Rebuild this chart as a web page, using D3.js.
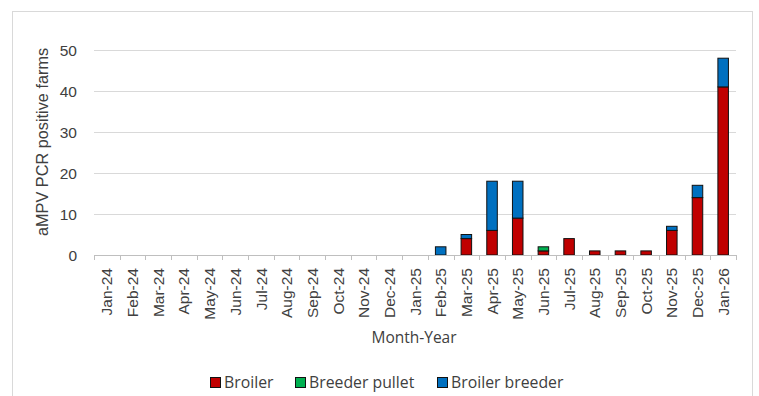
<!DOCTYPE html>
<meta charset="utf-8">
<style>
body { margin: 0; background: #fff; }
svg text { fill: #404040; }
.tick text { font-family: "Liberation Sans", Arial, sans-serif; }
</style>
<svg width="759" height="396"></svg>
<script src="https://d3js.org/d3.v7.min.js"></script>
<script>

var months = ["Jan-24","Feb-24","Mar-24","Apr-24","May-24","Jun-24","Jul-24","Aug-24","Sep-24","Oct-24","Nov-24","Dec-24",
              "Jan-25","Feb-25","Mar-25","Apr-25","May-25","Jun-25","Jul-25","Aug-25","Sep-25","Oct-25","Nov-25","Dec-25","Jan-26"];
var broiler       = [0,0,0,0,0,0,0,0,0,0,0,0, 0,0,4,6,9,1,4,1,1,1,6,14,41];
var breederPullet = [0,0,0,0,0,0,0,0,0,0,0,0, 0,0,0,0,0,1,0,0,0,0,0,0,0];
var broilerBreeder= [0,0,0,0,0,0,0,0,0,0,0,0, 0,2,1,12,9,0,0,0,0,0,1,3,7];
var seriesNames = ["Broiler", "Breeder pullet", "Broiler breeder"];
var seriesColors = ["#c00000", "#00b050", "#0070c0"];
var yTicks = [0, 10, 20, 30, 40, 50];

var svg = d3.select("svg"),
    margin = {top: 50, right: 23, bottom: 141, left: 94},
    width = 759 - margin.left - margin.right,
    height = 396 - margin.top - margin.bottom;

// chart border
svg.append("rect")
    .attr("x", 12.5).attr("y", 11.5)
    .attr("width", 740).attr("height", 400)
    .attr("fill", "#fff").attr("stroke", "#d9d9d9");

var g = svg.append("g").attr("transform", "translate(" + margin.left + "," + margin.top + ")");

var table = months.map(function(m, i) {
  return {month: m, "Broiler": broiler[i], "Breeder pullet": breederPullet[i], "Broiler breeder": broilerBreeder[i]};
});
var stacked = d3.stack().keys(seriesNames)(table);

var x = d3.scaleBand().domain(months).range([0, width]).padding(0);
var y = d3.scaleLinear().domain([0, 50]).range([height, 0]);
var barW = x.bandwidth() * 0.41;

// gridlines
g.append("g")
  .selectAll("line")
  .data(yTicks.slice(1))
  .enter().append("line")
    .attr("x1", 0).attr("x2", width)
    .attr("y1", function(d) { return Math.round(y(d)) + 0.5; })
    .attr("y2", function(d) { return Math.round(y(d)) + 0.5; })
    .attr("stroke", "#d9d9d9");

// y axis
var yAxis = g.append("g")
    .call(d3.axisLeft(y).tickValues(yTicks).tickSize(0).tickPadding(17));
yAxis.select(".domain").remove();
yAxis.selectAll("text").attr("font-size", 15.5).attr("fill", "#404040").attr("dy", "0.36em");

// bars
g.append("g")
  .selectAll("g")
  .data(stacked)
  .enter().append("g")
    .attr("fill", function(d, i) { return seriesColors[i]; })
  .selectAll("rect")
  .data(function(d) { return d.filter(function(v) { return v[1] - v[0] > 0; }); })
  .enter().append("rect")
    .attr("x", function(d) { return x(d.data.month) + (x.bandwidth() - barW) / 2; })
    .attr("y", function(d) { return y(d[1]); })
    .attr("width", barW)
    .attr("height", function(d) { return y(d[0]) - y(d[1]); })
    .attr("stroke", "#111")
    .attr("stroke-width", 1);

// x axis
var xAxis = g.append("g")
    .attr("transform", "translate(0," + height + ")")
    .call(d3.axisBottom(x).tickSize(0).tickPadding(0));
xAxis.select(".domain").attr("stroke", "#bfbfbf");
xAxis.selectAll(".tick text")
    .attr("font-size", 15.5)
    .attr("fill", "#404040")
    .attr("text-anchor", "end")
    .attr("transform", "rotate(-90)")
    .attr("x", -13).attr("y", 0).attr("dy", "0.36em");
// tick marks on category boundaries
xAxis.append("g")
  .selectAll("line")
  .data(d3.range(months.length + 1))
  .enter().append("line")
    .attr("x1", function(i) { return Math.round(i * x.step()) + 0.5; })
    .attr("x2", function(i) { return Math.round(i * x.step()) + 0.5; })
    .attr("y1", 0).attr("y2", 5)
    .attr("stroke", "#bfbfbf");

// axis titles
svg.append("text")
    .attr("transform", "translate(48,142) rotate(-90)")
    .attr("text-anchor", "middle")
    .attr("font-family", "Liberation Sans, Arial, sans-serif")
    .attr("font-size", 16.3)
    .text("aMPV PCR positive farms");

svg.append("text")
    .attr("x", 414).attr("y", 343)
    .attr("text-anchor", "middle")
    .attr("font-family", "Open Sans, sans-serif")
    .attr("font-size", 15.5)
    .text("Month-Year");

// legend
var legendX = [210, 295, 437];
var legend = svg.append("g")
  .selectAll("g")
  .data(seriesNames)
  .enter().append("g")
    .attr("transform", function(d, i) { return "translate(" + legendX[i] + ",377)"; });
legend.append("rect")
    .attr("x", 0.5).attr("y", 0.5)
    .attr("width", 10).attr("height", 10)
    .attr("fill", function(d, i) { return seriesColors[i]; })
    .attr("stroke", "#111");
legend.append("text")
    .attr("x", 14).attr("y", 11)
    .attr("font-family", "Open Sans, sans-serif")
    .attr("font-size", 15.8)
    .text(function(d) { return d; });

</script>
